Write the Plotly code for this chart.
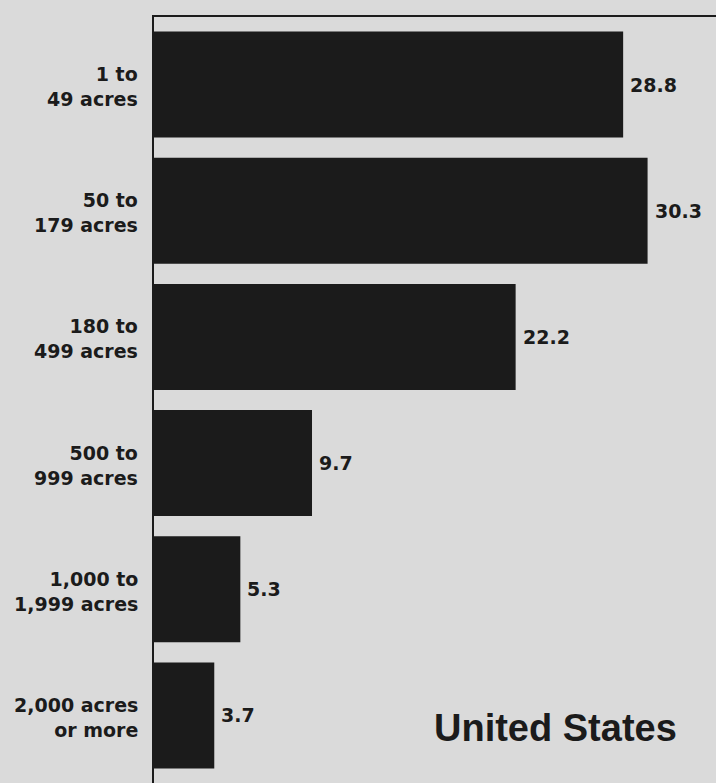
import plotly.graph_objects as go

categories = ["1 to<br>49 acres", "50 to<br>179 acres", "180 to<br>499 acres",
              "500 to<br>999 acres", "1,000 to<br>1,999 acres", "2,000 acres<br>or more"]
values = [28.8, 30.3, 22.2, 9.7, 5.3, 3.7]
value_labels = ["28.8", "30.3", "22.2", "9.7", "5.3", "3.7"]
title_text = "United States"

bg = "#dadada"
ink = "#1b1b1b"
label_font = "DejaVu Sans, Arial, sans-serif"
title_font = "Liberation Sans, Arial, sans-serif"

ypos = list(range(len(categories)))

fig = go.Figure()
fig.add_trace(go.Bar(
    x=values, y=ypos, orientation="h",
    marker=dict(color=ink, line=dict(width=0)),
    width=0.84,
    hoverinfo="skip",
))

annotations = []
for i, c in enumerate(categories):
    annotations.append(dict(
        x=0, xref="paper", y=i, yref="y", xanchor="right", xshift=-14, yshift=-2,
        text=f"<b>{c}</b>", showarrow=False, align="right",
        font=dict(family=label_font, size=19, color=ink),
    ))
for i, (v, t) in enumerate(zip(values, value_labels)):
    annotations.append(dict(
        x=v, xref="x", y=i, yref="y", xanchor="left", xshift=5, yshift=0,
        text=f"<b>{t}</b>", showarrow=False,
        font=dict(family=label_font, size=19, color=ink),
    ))
annotations.append(dict(
    x=0.934, xref="paper", y=5.1, yref="y", xanchor="right", yanchor="middle",
    text=f"<b>{title_text}</b>", showarrow=False,
    font=dict(family=title_font, size=38, color=ink),
))

fig.update_layout(
    width=716, height=783,
    margin=dict(l=154, r=0, t=17, b=0),
    paper_bgcolor=bg, plot_bgcolor=bg,
    showlegend=False,
    xaxis=dict(range=[0, 34.5], showgrid=False, zeroline=False, showticklabels=False,
               showline=True, linecolor=ink, linewidth=2, side="top", ticks=""),
    yaxis=dict(range=[5.535, -0.535], showgrid=False, zeroline=False, showticklabels=False,
               showline=True, linecolor=ink, linewidth=2, ticks=""),
    annotations=annotations,
)

fig.write_html("out.html", config={"displayModeBar": False},
               post_script="document.body.style.margin='0';document.body.style.background='%s';" % bg)
